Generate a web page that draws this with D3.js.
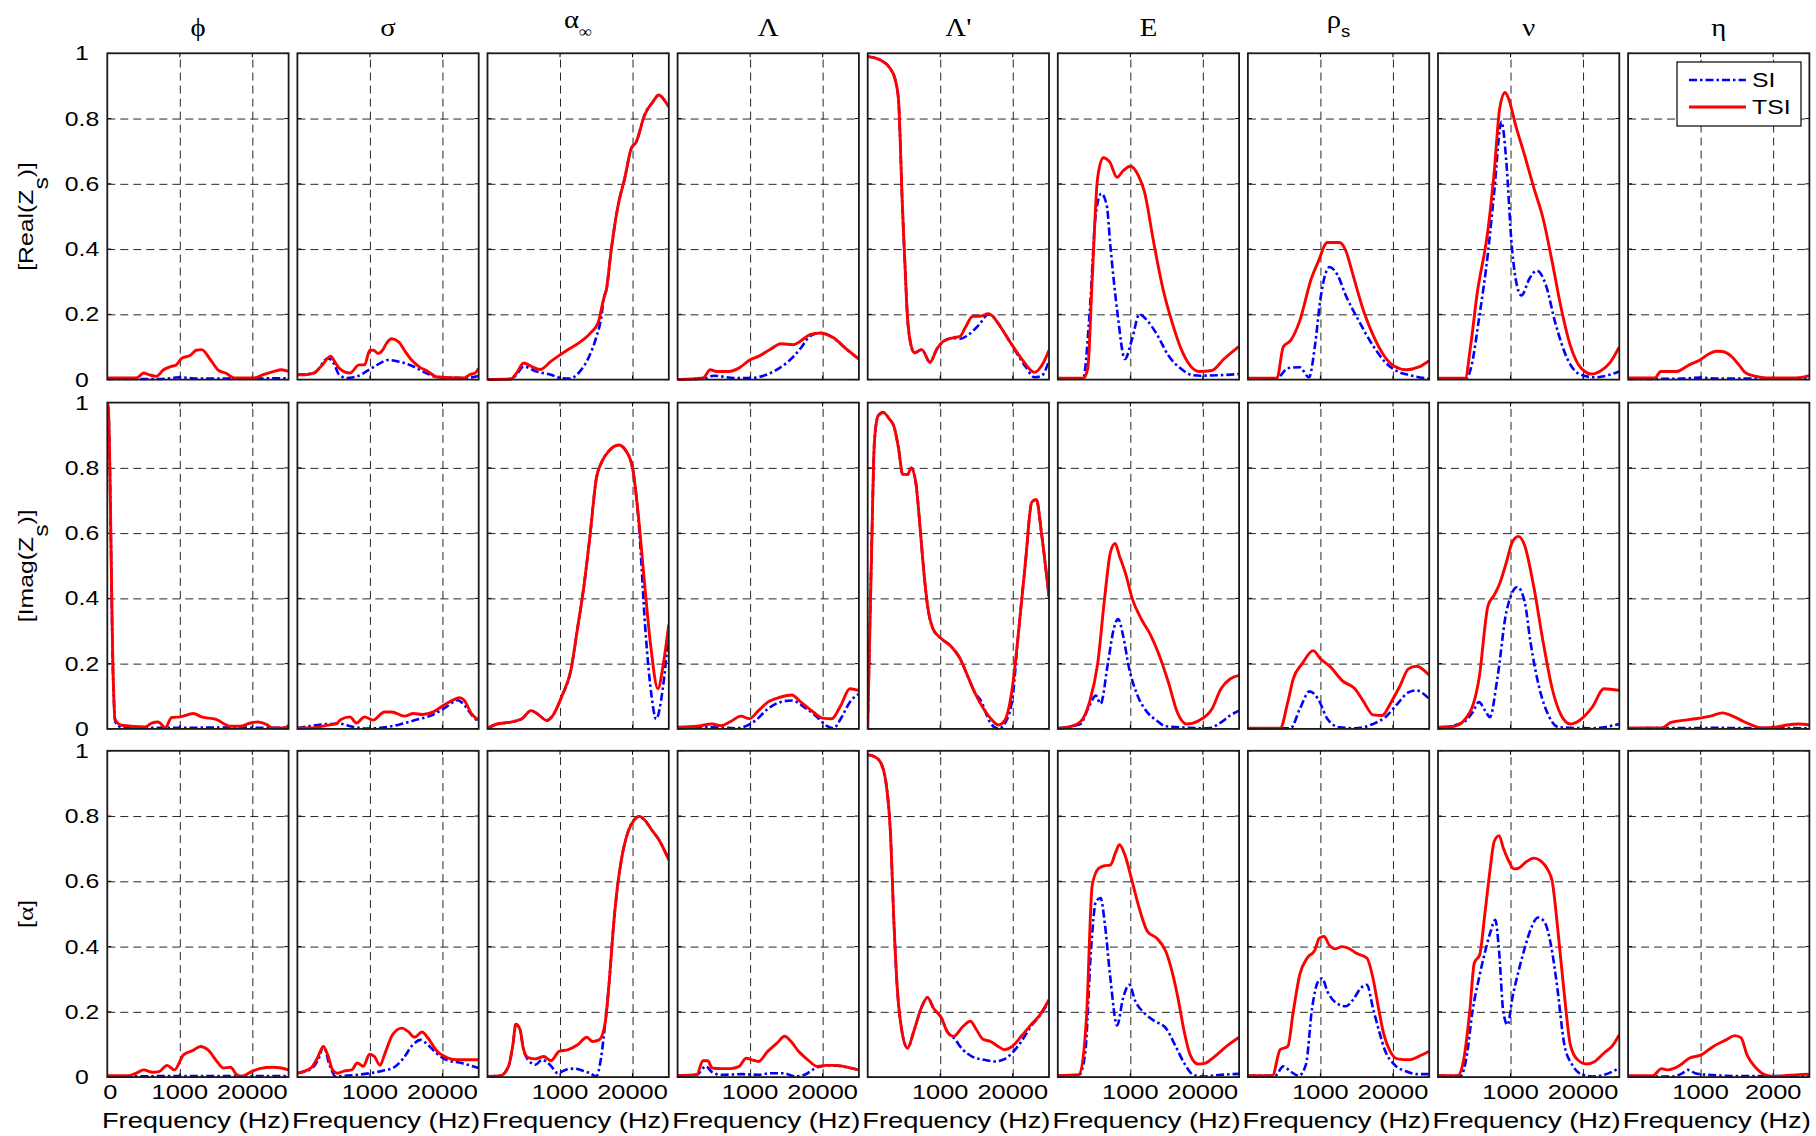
<!DOCTYPE html>
<html><head><meta charset="utf-8">
<script src="https://cdn.jsdelivr.net/npm/d3@7"></script>
<style>body{margin:0;background:#fff;}</style>
</head><body>
<svg id="chart" width="1816" height="1136"></svg>
<script>
// ---------------- data ----------------
const columnTitles = ["ϕ","σ","α","Λ","Λ'","E","ρ","ν","η"];
const columnSubs   = ["","","∞","","","","s","",""];
const rowLabels = [["[Real(Z","s",")]"],["[Imag(Z","s",")]"],["[","α","]"]];
const yTicks = [0,0.2,0.4,0.6,0.8,1];
const yTickLabels = ["0","0.2","0.4","0.6","0.8","1"];
const xGridPos = [40,80];
const xTickLabelsFirst = [[0,"0"],[40,"1000"],[80,"20000"]];
const xTickLabelsMid = [[40,"1000"],[80,"20000"]];
const xTickLabelsLast = [[40,"1000"],[80,"2000"]];
const xLabel = "Frequency (Hz)";
const seriesNames = ["SI","TSI"];

// Row 1 : Real(Zs)  -- x is % of the frequency axis, y is normalized sensitivity
const realSI = [
 [[0,0.002],[30,0.002],[40,0.007],[50,0.003],[100,0.004]],
 [[0,0.015],[9,0.02],[17,0.065],[20,0.05],[23,0.015],[27,0.005],[33,0.01],[38,0.025],[44,0.045],[50,0.06],[56,0.055],[64,0.04],[71,0.02],[77,0.008],[93,0.005],[100,0.012]],
 [[0,0],[13,0.002],[16,0.015],[20,0.04],[27,0.025],[35,0.015],[40,0.005],[45,0.003],[51,0.025],[56,0.07],[60,0.13],[63,0.2],[64,0.246],[65.6,0.277],[68.3,0.4],[72,0.533],[75.6,0.615],[79.3,0.708],[82,0.728],[86.6,0.81],[91.2,0.851],[94.5,0.872],[97.6,0.856],[100,0.836]],
 [[0,0],[14,0.003],[20,0.012],[31,0.005],[40,0.005],[49,0.015],[56.4,0.036],[64,0.071],[68,0.097],[73,0.133],[78.5,0.143],[86,0.128],[93,0.094],[100,0.063]],
 [[0,0.99],[6.8,0.98],[12.3,0.954],[15,0.923],[17,0.857],[17.8,0.755],[19,0.551],[20.6,0.347],[21.9,0.194],[23.3,0.122],[25.7,0.082],[29.8,0.092],[34.4,0.053],[38,0.092],[41.7,0.117],[47,0.128],[51,0.125],[55,0.135],[61.4,0.168],[66.5,0.2],[69,0.194],[71,0.18],[78,0.12],[87,0.04],[92,0.007],[96,0.012],[100,0.058]],
 [[0,0.004],[14,0.004],[17.5,0.2],[21,0.51],[24,0.57],[27,0.534],[29,0.41],[33,0.2],[37,0.063],[41,0.125],[45,0.2],[49.5,0.18],[54.5,0.14],[61,0.074],[68,0.033],[74,0.014],[79,0.012],[100,0.017]],
 [[0,0.004],[16,0.004],[22,0.035],[28.6,0.038],[33.7,0.007],[37,0.104],[40,0.247],[45,0.345],[49.5,0.32],[54,0.258],[60.6,0.186],[69,0.104],[75.8,0.053],[82.5,0.025],[89,0.014],[100,0.002]],
 [[0,0.004],[15.8,0.004],[18.5,0.043],[22.6,0.186],[27.6,0.39],[31,0.575],[35,0.79],[37.7,0.667],[40.4,0.43],[42.8,0.31],[46,0.258],[50.5,0.31],[54.5,0.334],[59.6,0.288],[64.6,0.176],[71.4,0.063],[78,0.017],[86.5,0.007],[93,0.012],[100,0.025]],
 [[0,0.002],[30,0.003],[40,0.006],[50,0.003],[100,0.003]]
];
const realTSI = [
 [[0,0.005],[16,0.005],[18,0.012],[20,0.02],[23,0.015],[27,0.01],[31,0.03],[35,0.04],[38,0.045],[41,0.065],[46,0.075],[49,0.09],[52,0.092],[57,0.06],[61,0.03],[66,0.018],[70,0.005],[81,0.005],[86,0.015],[92,0.025],[96,0.03],[100,0.025]],
 [[0,0.015],[4,0.015],[9,0.02],[13,0.04],[18.4,0.072],[20,0.06],[23,0.035],[29,0.02],[34,0.045],[37,0.045],[40,0.09],[42,0.09],[44.5,0.08],[47,0.09],[49,0.11],[52,0.125],[56,0.115],[59,0.09],[63,0.06],[67,0.04],[72,0.025],[77,0.008],[92,0.005],[95,0.015],[98,0.02],[100,0.035]],
 [[0,0],[13,0.002],[16,0.02],[20,0.051],[24,0.041],[29,0.031],[35,0.056],[39,0.072],[44.5,0.092],[53,0.123],[57,0.144],[61,0.174],[64,0.246],[65.6,0.277],[68.3,0.4],[72,0.533],[75.6,0.615],[79.3,0.708],[82,0.728],[86.6,0.81],[91.2,0.851],[94.5,0.872],[97.6,0.856],[100,0.836]],
 [[0,0],[14,0.005],[18,0.03],[21.5,0.025],[28.5,0.025],[34,0.036],[40,0.061],[44.5,0.071],[51,0.092],[57,0.11],[64,0.107],[67.5,0.117],[73,0.138],[78.5,0.143],[86,0.128],[93,0.094],[100,0.063]],
 [[0,0.99],[6.8,0.98],[12.3,0.954],[15,0.923],[17,0.857],[17.8,0.755],[19,0.551],[20.6,0.347],[21.9,0.194],[23.3,0.122],[25.7,0.082],[29.8,0.092],[34.4,0.053],[38,0.092],[41.7,0.117],[47,0.128],[51,0.133],[53.7,0.158],[58,0.194],[62,0.194],[66.5,0.202],[69,0.194],[71,0.18],[78,0.12],[85,0.063],[92,0.022],[96,0.043],[100,0.09]],
 [[0,0.004],[14,0.004],[16.5,0.033],[19,0.31],[21.9,0.615],[25,0.68],[28.6,0.667],[32.7,0.62],[36,0.64],[40,0.654],[44.4,0.626],[47.8,0.575],[52.9,0.42],[58,0.278],[63,0.176],[68,0.094],[73,0.043],[78,0.025],[85,0.028],[91.6,0.063],[100,0.102]],
 [[0,0.004],[16,0.004],[19.5,0.1],[23.6,0.12],[28.6,0.18],[35,0.31],[38.7,0.36],[43.8,0.42],[50.5,0.42],[54,0.395],[58,0.32],[64,0.207],[69,0.137],[75,0.074],[80.8,0.041],[87.5,0.03],[94,0.038],[100,0.058]],
 [[0,0.004],[15,0.004],[18,0.104],[21.5,0.26],[27.6,0.46],[31,0.636],[34,0.83],[37,0.88],[39,0.86],[42.8,0.78],[47.8,0.687],[53,0.585],[58,0.493],[63,0.36],[68,0.217],[73,0.104],[78.5,0.038],[85,0.017],[90,0.028],[95,0.053],[100,0.1]],
 [[0,0.005],[14.7,0.005],[18,0.025],[26.6,0.025],[34,0.046],[39.6,0.06],[44,0.077],[48.6,0.087],[52,0.086],[57,0.071],[61,0.046],[65,0.02],[70.6,0.01],[76,0.005],[92.6,0.005],[100,0.012]]
];

// Row 2 : Imag(Zs)
const imagSI = [
 [[0,1],[0.6,0.98],[3.3,0.14],[4.5,0.02],[8,0.005],[30,0.003],[60,0.004],[100,0.003]],
 [[0,0.003],[23,0.016],[31,0.006],[38,0.001],[47,0.004],[56,0.013],[65,0.027],[75,0.044],[82,0.067],[88.6,0.088],[92,0.073],[97,0.037],[100,0.021]],
 [[0,0.002],[5.4,0.015],[12,0.02],[19,0.031],[24,0.056],[27.6,0.046],[32.7,0.026],[36,0.041],[41,0.1],[46,0.18],[49.7,0.31],[53,0.43],[56.5,0.59],[60,0.767],[63,0.818],[66.7,0.85],[72.4,0.87],[76,0.855],[80,0.8],[83.7,0.61],[87,0.31],[90.5,0.1],[93,0.03],[96.6,0.12],[100,0.3]],
 [[0,0.002],[19,0.005],[32.6,0.002],[43,0.026],[49.7,0.061],[56.5,0.082],[63,0.087],[70,0.066],[77,0.036],[82,0.01],[86,0.002],[90,0.031],[95,0.082],[100,0.107]],
 [[0,0],[2.4,0.61],[3.7,0.88],[5.8,0.96],[8.5,0.97],[11.9,0.95],[14.6,0.925],[17,0.86],[19.3,0.78],[22,0.78],[24,0.8],[26.4,0.76],[29,0.61],[30.5,0.51],[33,0.378],[36,0.307],[40.7,0.276],[45.8,0.254],[51,0.215],[55,0.164],[59,0.112],[62.4,0.087],[67.5,0.02],[72,0.0],[76,0.02],[80,0.1],[83,0.286],[87,0.51],[90.5,0.695],[93,0.703],[96,0.593],[100,0.404]],
 [[0,0.002],[12.5,0.015],[17,0.066],[21,0.102],[23.6,0.077],[27.6,0.2],[31,0.31],[33.3,0.337],[36,0.286],[39.4,0.184],[44,0.102],[49.5,0.05],[54.5,0.026],[59.6,0.008],[83,0.002],[90,0.02],[95,0.041],[100,0.056]],
 [[0,0.002],[23.6,0.002],[28.6,0.061],[34,0.115],[38.7,0.092],[43.8,0.031],[50.5,0.005],[59,0.002],[69,0.015],[75.8,0.036],[82.5,0.077],[88.5,0.112],[92.6,0.118],[100,0.092]],
 [[0,0.002],[14,0.02],[19,0.05],[22.6,0.082],[26,0.056],[28.6,0.036],[32.7,0.153],[37.7,0.358],[43.8,0.435],[47.8,0.39],[51,0.266],[56,0.123],[61,0.041],[66.6,0.005],[85,0.002],[100,0.015]],
 [[0,0.002],[50,0.003],[100,0.002]]
];
const imagTSI = [
 [[0,1],[0.6,0.98],[3.3,0.15],[4.2,0.03],[8,0.011],[21,0.006],[24.5,0.018],[28,0.021],[32,0.004],[35.5,0.035],[40,0.037],[47.5,0.047],[52,0.037],[60,0.029],[68,0.008],[73,0.008],[79,0.018],[83,0.021],[88,0.013],[91,0.003],[98,0.003],[100,0.011]],
 [[0,0.003],[8.6,0.003],[16,0.011],[21.5,0.016],[24,0.029],[29,0.037],[32.5,0.018],[37,0.037],[41.7,0.027],[48,0.052],[52,0.052],[59,0.039],[64,0.047],[69,0.044],[75,0.052],[80,0.07],[87,0.091],[89.5,0.096],[92,0.088],[96,0.047],[100,0.027]],
 [[0,0.002],[5.4,0.015],[12,0.02],[19,0.031],[24,0.056],[27.6,0.046],[32.7,0.026],[36,0.041],[41,0.1],[46,0.18],[49.7,0.31],[53,0.43],[56.5,0.59],[60,0.767],[63,0.818],[66.7,0.85],[72.4,0.87],[76,0.855],[80,0.8],[83,0.665],[86.4,0.46],[90,0.256],[94,0.123],[97,0.2],[100,0.32]],
 [[0,0.005],[10.5,0.008],[19,0.015],[24,0.01],[29,0.022],[35,0.039],[39.5,0.031],[44.6,0.056],[49.7,0.082],[56.5,0.097],[63,0.104],[68,0.082],[75,0.051],[80,0.033],[85,0.031],[90,0.072],[95,0.123],[100,0.118]],
 [[0,0],[2.4,0.61],[3.7,0.88],[5.8,0.96],[8.5,0.97],[11.9,0.95],[14.6,0.925],[17,0.86],[19.3,0.78],[22,0.78],[24,0.8],[26.4,0.76],[29,0.61],[30.5,0.51],[33,0.378],[36,0.307],[40.7,0.276],[45.8,0.254],[51,0.215],[55,0.164],[59,0.112],[64,0.061],[68.8,0.026],[72,0.012],[75.6,0.026],[79.7,0.123],[83,0.286],[87,0.51],[90.5,0.695],[93,0.703],[96,0.593],[100,0.404]],
 [[0,0.002],[7.4,0.008],[12.5,0.022],[17.5,0.082],[22,0.2],[26,0.41],[29,0.54],[31.6,0.568],[34,0.53],[37.7,0.47],[41,0.4],[46,0.337],[51,0.29],[56,0.225],[61,0.143],[66,0.05],[71,0.015],[78,0.026],[85,0.061],[90,0.123],[95,0.153],[100,0.164]],
 [[0,0.002],[17.8,0.002],[22,0.082],[25,0.153],[30,0.2],[36,0.24],[40,0.215],[45.5,0.19],[52,0.148],[59,0.123],[64,0.082],[69,0.043],[74,0.041],[79,0.082],[84,0.133],[88.5,0.184],[93,0.192],[100,0.164]],
 [[0,0.005],[9,0.008],[17.5,0.05],[22.6,0.153],[27.6,0.378],[31,0.41],[34,0.445],[37.7,0.51],[41,0.573],[44.4,0.59],[47.8,0.562],[53,0.43],[58,0.266],[63,0.123],[68,0.041],[73,0.015],[78,0.026],[85,0.066],[91.6,0.123],[100,0.118]],
 [[0,0.003],[18.5,0.003],[23.6,0.02],[30,0.026],[37,0.031],[45.5,0.039],[52,0.049],[57,0.041],[64,0.022],[74,0.003],[80.8,0.005],[87.5,0.012],[94,0.015],[100,0.012]]
];

// Row 3 : alpha
const alphaSI = [
 [[0,0.002],[40,0.003],[100,0.003]],
 [[0,0.012],[7.5,0.025],[12,0.06],[14.3,0.094],[18,0.033],[21,0.002],[26,0.004],[33,0.007],[40,0.012],[46.6,0.019],[52.7,0.028],[58.5,0.058],[63.6,0.099],[68,0.114],[72,0.099],[76.5,0.074],[82,0.053],[90.5,0.043],[100,0.028]],
 [[0,0.002],[7,0.004],[11.6,0.033],[14,0.099],[15.6,0.162],[18,0.145],[19.7,0.089],[22.4,0.053],[26.5,0.038],[30,0.053],[34.4,0.038],[38.8,0.012],[43,0.022],[48,0.026],[53,0.019],[56.5,0.012],[60,0.002],[62.6,0.058],[65,0.17],[67.3,0.303],[69.4,0.457],[71.8,0.589],[74,0.671],[77.6,0.753],[81,0.789],[83.7,0.799],[87,0.786],[90.5,0.758],[94.6,0.727],[100,0.666]],
 [[0,0.004],[10.5,0.007],[15.6,0.033],[19,0.015],[24,0.007],[36,0.009],[44.6,0.007],[51.4,0.012],[58,0.012],[65,0.002],[70,0.007],[77,0.03],[83.7,0.036],[90.5,0.033],[100,0.022]],
 [[0,0.988],[3.4,0.983],[6.8,0.967],[10,0.906],[12.5,0.753],[14.6,0.457],[16.3,0.273],[18.6,0.15],[22,0.089],[25.4,0.14],[29.5,0.211],[33,0.244],[36.3,0.211],[40.7,0.181],[44,0.138],[47.5,0.12],[52.5,0.084],[57.6,0.063],[64.4,0.053],[70,0.048],[74.6,0.053],[79.7,0.074],[84.7,0.109],[90,0.155],[95,0.189],[100,0.232]],
 [[0,0.004],[11.8,0.007],[15,0.068],[18.5,0.405],[21,0.538],[23.6,0.549],[26,0.467],[29,0.303],[32.7,0.158],[36,0.242],[39.4,0.283],[42.8,0.232],[47.8,0.196],[53,0.173],[59.6,0.15],[64.6,0.099],[69.7,0.043],[74.7,0.007],[79.8,0.002],[90,0.007],[100,0.01]],
 [[0,0.004],[15,0.004],[19.5,0.033],[23.6,0.017],[28,0.004],[32,0.038],[35.4,0.211],[38.7,0.293],[41,0.303],[43.8,0.263],[48.8,0.227],[54,0.217],[58,0.237],[62.3,0.273],[65.6,0.283],[69,0.211],[72.4,0.14],[75.8,0.079],[80.8,0.038],[87.5,0.017],[94,0.009],[100,0.009]],
 [[0,0.004],[12.5,0.004],[15.8,0.063],[19,0.201],[22.6,0.303],[26,0.385],[29,0.446],[31.6,0.482],[33.7,0.385],[36,0.201],[38.4,0.16],[41,0.242],[44.4,0.324],[47.8,0.395],[51,0.451],[55.2,0.489],[58.6,0.477],[62.3,0.405],[65.6,0.283],[69.7,0.099],[74,0.038],[79.8,0.007],[85,0.002],[91.6,0.007],[100,0.028]],
 [[0,0.002],[25,0.002],[30,0.012],[33,0.022],[37,0.012],[43.8,0.007],[64,0.003],[100,0.003]]
];
const alphaTSI = [
 [[0,0.004],[11,0.004],[16,0.012],[20,0.022],[25,0.015],[28.5,0.017],[33,0.036],[37,0.022],[42,0.068],[47,0.081],[51.4,0.094],[55.4,0.084],[60.5,0.048],[64,0.028],[68,0.03],[71.4,0.007],[74,0.002],[79,0.015],[84,0.026],[91,0.03],[96,0.028],[100,0.022]],
 [[0,0.012],[7.5,0.028],[11,0.058],[14.3,0.094],[16.7,0.068],[19.4,0.022],[22,0.012],[26,0.019],[30,0.022],[33,0.043],[36.4,0.033],[39.8,0.07],[42.5,0.063],[45.6,0.036],[48,0.068],[52.7,0.132],[57.8,0.15],[61,0.14],[64.6,0.122],[68.7,0.138],[72,0.12],[77,0.079],[82,0.061],[87.4,0.053],[100,0.053]],
 [[0,0.002],[7,0.004],[11.6,0.033],[14,0.099],[15.6,0.162],[18,0.145],[19.7,0.089],[22.4,0.06],[26.5,0.056],[31,0.063],[35,0.05],[39.5,0.079],[44.6,0.084],[49.7,0.099],[54.8,0.122],[58,0.109],[61.6,0.114],[65,0.17],[67.3,0.303],[69.4,0.457],[71.8,0.589],[74,0.671],[77.6,0.753],[81,0.789],[83.7,0.799],[87,0.786],[90.5,0.758],[94.6,0.727],[100,0.666]],
 [[0,0.004],[10.5,0.007],[14,0.05],[16.7,0.05],[19,0.028],[24,0.026],[29,0.026],[34,0.033],[37.8,0.058],[41,0.053],[44.6,0.048],[49.7,0.079],[54.8,0.104],[59,0.125],[62.6,0.109],[66.7,0.079],[71.8,0.053],[77,0.033],[82,0.036],[87,0.036],[94,0.03],[100,0.022]],
 [[0,0.988],[3.4,0.983],[6.8,0.967],[10,0.906],[12.5,0.753],[14.6,0.457],[16.3,0.273],[18.6,0.15],[22,0.089],[25.4,0.14],[29.5,0.211],[33,0.244],[36.3,0.211],[40.7,0.181],[44,0.138],[47.5,0.125],[52.5,0.155],[56.6,0.171],[60,0.145],[63.4,0.117],[67.8,0.109],[72,0.094],[75.6,0.084],[79.7,0.094],[84.7,0.125],[90,0.16],[95,0.191],[100,0.237]],
 [[0,0.004],[11.8,0.007],[15.8,0.18],[19,0.589],[22.6,0.64],[26,0.648],[29,0.65],[32,0.69],[34,0.712],[37,0.681],[41,0.6],[44.4,0.528],[49.5,0.446],[54.5,0.426],[59.6,0.385],[63,0.324],[66.3,0.242],[69.7,0.14],[73,0.068],[77.4,0.04],[81.5,0.043],[86.5,0.063],[93,0.094],[100,0.122]],
 [[0,0.004],[13.5,0.004],[17.8,0.084],[22,0.094],[25,0.2],[28.6,0.314],[32.7,0.365],[37,0.39],[39.4,0.426],[42,0.431],[44.8,0.405],[48,0.393],[52,0.4],[55.5,0.395],[59.6,0.38],[65.6,0.365],[69,0.303],[71.7,0.222],[75,0.13],[78.5,0.079],[82.5,0.056],[89,0.053],[94,0.063],[100,0.079]],
 [[0,0.004],[10.8,0.004],[14,0.048],[17.5,0.201],[20,0.349],[23,0.375],[26,0.508],[28.6,0.63],[31,0.722],[33.7,0.74],[36,0.702],[38.7,0.666],[41.8,0.638],[44.4,0.64],[48.5,0.659],[53,0.671],[57,0.661],[60.6,0.635],[63,0.6],[66,0.457],[69.7,0.252],[73,0.099],[77,0.053],[82,0.04],[86.5,0.048],[91.6,0.074],[96.6,0.099],[100,0.13]],
 [[0,0.004],[13.5,0.004],[18.5,0.026],[22,0.022],[28.6,0.036],[33.7,0.058],[40.4,0.068],[47,0.094],[54,0.114],[59,0.127],[62.3,0.12],[65.6,0.068],[70.6,0.028],[75.6,0.007],[80.8,0.002],[87.5,0.005],[100,0.009]]
];

// ---------------- layout ----------------
const W = 1816, H = 1136;
const LEFT0 = 107.3, STEP = 190.1, PW = 181.3, PH = 326.3;
const ROW_TOPS = [53.3, 402.6, 750.8];
const STRETCH = 1.24;
const SANS = "'Liberation Sans', Arial, Helvetica, sans-serif";
const SERIF = "'Liberation Serif', 'Times New Roman', serif";
const rows = [[realSI, realTSI],[imagSI, imagTSI],[alphaSI, alphaTSI]];
const colors = {SI:"#0000ff", TSI:"#ff0000"};

const svg = d3.select("#chart");
svg.append("rect").attr("width",W).attr("height",H).attr("fill","#fff");
const defs = svg.append("defs");

function stretchedText(g, x, y, str, opts={}) {
  const t = g.append("text")
    .attr("transform", `translate(${x},${y})` + (opts.rotate ? ` rotate(${opts.rotate})` : "") + ` scale(${opts.stretch||STRETCH},1)`)
    .attr("text-anchor", opts.anchor || "middle")
    .attr("font-family", opts.family || SANS)
    .attr("font-size", opts.size || 20)
    .attr("fill", "#000");
  if (str !== null) t.text(str);
  return t;
}

for (let r = 0; r < 3; r++) {
  for (let c = 0; c < 9; c++) {
    const left = LEFT0 + c*STEP, top = ROW_TOPS[r];
    const x = d3.scaleLinear().domain([0,100]).range([left, left+PW]);
    const y = d3.scaleLinear().domain([0,1]).range([top+PH, top]);
    const g = svg.append("g");

    // grid (through d3 axes)
    const gx = g.append("g").attr("transform",`translate(0,${top+PH})`)
      .call(d3.axisBottom(x).tickValues(xGridPos).tickSize(-PH).tickFormat(""));
    const gy = g.append("g").attr("transform",`translate(${left},0)`)
      .call(d3.axisLeft(y).tickValues(yTicks.slice(1,-1)).tickSize(-PW).tickFormat(""));
    [gx,gy].forEach(a => {
      a.select(".domain").remove();
      a.selectAll("line").attr("stroke","#000").attr("stroke-opacity",0.85)
        .attr("stroke-width",1).attr("stroke-dasharray","8,5");
    });
    // small inward ticks (solid)
    const tk = g.append("g").attr("stroke","#000").attr("stroke-width",1);
    yTicks.forEach(v => {
      tk.append("line").attr("x1",left).attr("x2",left+4).attr("y1",y(v)).attr("y2",y(v));
      tk.append("line").attr("x1",left+PW-4).attr("x2",left+PW).attr("y1",y(v)).attr("y2",y(v));
    });
    xGridPos.forEach(v => {
      tk.append("line").attr("x1",x(v)).attr("x2",x(v)).attr("y1",top+PH).attr("y2",top+PH-4);
      tk.append("line").attr("x1",x(v)).attr("x2",x(v)).attr("y1",top).attr("y2",top+4);
    });

    // curves
    const cid = `clip${r}_${c}`;
    defs.append("clipPath").attr("id",cid).append("rect")
      .attr("x",left).attr("y",top-2).attr("width",PW).attr("height",PH+4);
    const line = d3.line().x(d=>x(d[0])).y(d=>y(d[1])).curve(d3.curveMonotoneX);
    const cg = g.append("g").attr("clip-path",`url(#${cid})`);
    cg.append("path").datum(rows[r][0][c]).attr("d",line).attr("fill","none")
      .attr("stroke",colors.SI).attr("stroke-width",2.6).attr("stroke-dasharray","8,3,2.5,3")
      .attr("stroke-linejoin","round");
    cg.append("path").datum(rows[r][1][c]).attr("d",line).attr("fill","none")
      .attr("stroke",colors.TSI).attr("stroke-width",2.9).attr("stroke-linejoin","round");

    // frame
    g.append("rect").attr("x",left).attr("y",top).attr("width",PW).attr("height",PH)
      .attr("fill","none").attr("stroke","#1a1a1a").attr("stroke-width",1.8);

    // y tick labels on first column
    if (c === 0) {
      yTicks.forEach((v,i) => stretchedText(svg, 82, y(v)+7, yTickLabels[i]));
    }
    // x tick labels + x label on bottom row
    if (r === 2) {
      const lbls = c === 0 ? xTickLabelsFirst : (c === 8 ? xTickLabelsLast : xTickLabelsMid);
      lbls.forEach(([v,s]) => stretchedText(svg, x(v) + (v===0?3:0), 1099, s, {size:20.5}));
      stretchedText(svg, left + PW/2 - 2, 1128, xLabel, {size:21.5, stretch:1.27});
    }
    // column titles
    if (r === 0) {
      const cx = left + PW/2;
      if (columnSubs[c]) {
        const t = stretchedText(svg, cx, 28, null, {family:SERIF, size:25, stretch:1.15});
        t.append("tspan").text(columnTitles[c]);
        t.append("tspan").attr("dy",9).attr("font-size",16).attr("font-family", c===6?SANS:SERIF).text(columnSubs[c]);
      } else {
        stretchedText(svg, cx, 36, columnTitles[c], {family:SERIF, size:25, stretch:1.15});
      }
    }
  }
  // row labels
  const cy = ROW_TOPS[r] + PH/2;
  const parts = rowLabels[r];
  const t = stretchedText(svg, 33.3, cy, null, {rotate:-90});
  t.append("tspan").text(parts[0]);
  if (r < 2) {
    t.append("tspan").attr("dy",14.5).text(parts[1]);
    t.append("tspan").attr("dy",-14.5).text(parts[2]);
  } else {
    t.append("tspan").attr("font-family",SERIF).attr("font-size",22).text(parts[1]);
    t.append("tspan").text(parts[2]);
  }
}

// legend (inside last panel of first row)
const lg = svg.append("g");
lg.append("rect").attr("x",1677).attr("y",62).attr("width",124).attr("height",64)
  .attr("fill","#fff").attr("stroke","#000").attr("stroke-width",1.2);
seriesNames.forEach((name,i) => {
  const yy = 80 + i*27;
  lg.append("line").attr("x1",1689).attr("x2",1746).attr("y1",yy).attr("y2",yy)
    .attr("stroke",colors[name]).attr("stroke-width",name==="SI"?2.6:2.9)
    .attr("stroke-dasharray",name==="SI"?"8,3,2.5,3":null);
  stretchedText(lg, 1752, yy+7, name, {anchor:"start"});
});
</script>
</body></html>
